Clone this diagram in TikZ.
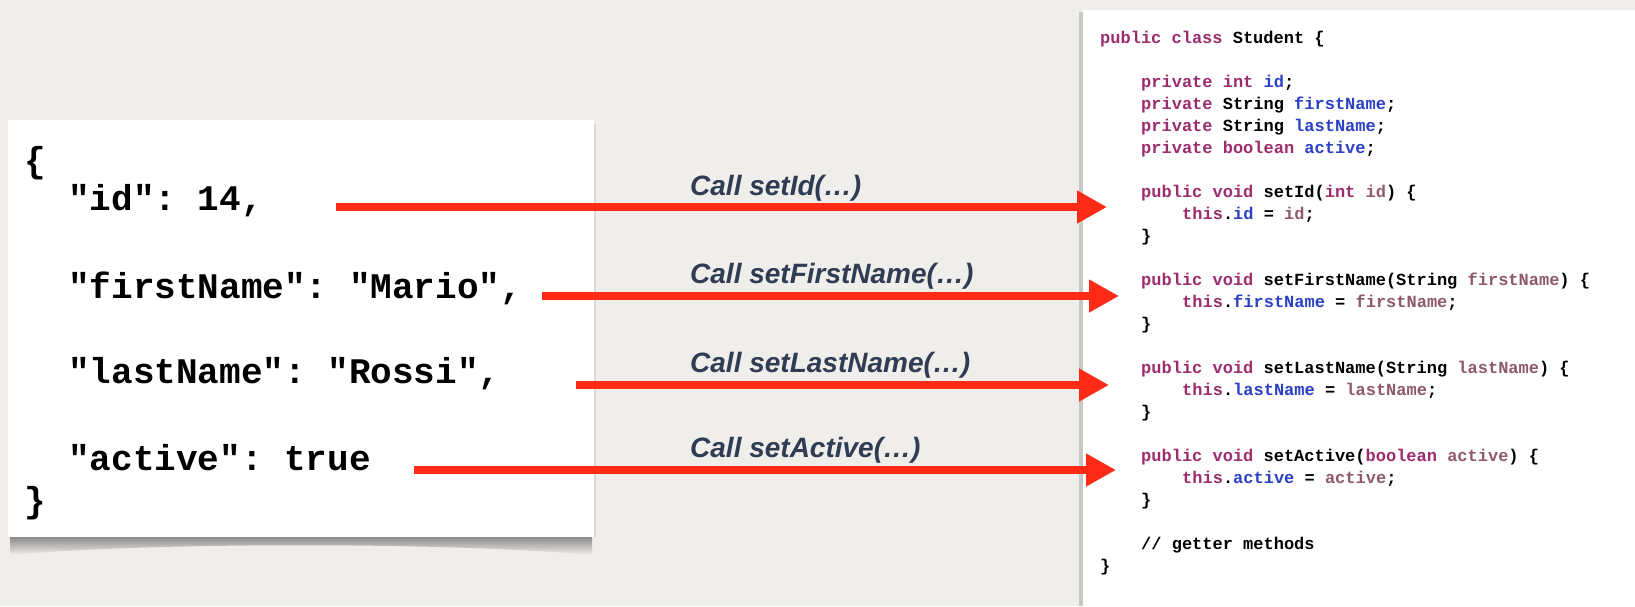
\documentclass[tikz,border=0pt]{standalone}
\usepackage{fontspec}
\setmonofont{Liberation Mono}
\newfontfamily\lblfont{Liberation Sans}
\usetikzlibrary{arrows.meta}
\definecolor{bg}{HTML}{F0EEEA}
\definecolor{kwc}{HTML}{9B2C6E}
\definecolor{fldc}{HTML}{2A40C6}
\definecolor{prmc}{HTML}{8E5A68}
\definecolor{lblc}{HTML}{2F3C54}
\definecolor{arrc}{HTML}{FF2B17}
\newcommand{\kw}[1]{\textcolor{kwc}{#1}}
\newcommand{\fld}[1]{\textcolor{fldc}{#1}}
\newcommand{\prm}[1]{\textcolor{prmc}{#1}}
\frenchspacing
\begin{document}
\begin{tikzpicture}[x=1pt,y=-1pt,
  jsonl/.style={anchor=base west, inner sep=0pt, font=\ttfamily\bfseries\fontsize{36}{43}\selectfont, text=black},
  codel/.style={anchor=base west, inner sep=0pt, font=\ttfamily\bfseries\fontsize{17}{22}\selectfont, text=black},
  lbl/.style={anchor=base west, inner sep=0pt, font=\lblfont\bfseries\itshape\fontsize{28}{33}\selectfont, text=lblc},
  callarrow/.style={draw=arrc, line width=8pt, -{Triangle[length=30pt,width=31pt]}},
  panel/.style={fill=white, draw=none, anchor=north west, inner sep=0pt}]
\useasboundingbox (0,0) rectangle (1635,606);
\fill[bg] (0,0) rectangle (1635,606);
% left panel shadow
\shade[top color=black!45, bottom color=bg]
  (10,537) -- (592,537) -- (592,555) .. controls (450,542) and (150,542) .. (10,555) -- cycle;
\fill[black!15] (593,124) rectangle (596,537);
\node[panel, minimum width=586pt, minimum height=417pt] (json) at (8,120) {};
% right panel shadow
\fill[black!22] (1079,12) rectangle (1084,606);
\node[panel, minimum width=552pt, minimum height=600pt] (code) at (1083,10) {};
% JSON text
\node[jsonl] (j0) at (24,172) {\{};
\node[jsonl] (j1) at (68,210) {"id": 14,};
\node[jsonl] (j2) at (68,298) {"firstName": "Mario",};
\node[jsonl] (j3) at (68,383) {"lastName": "Rossi",};
\node[jsonl] (j4) at (68,470) {"active": true};
\node[jsonl] (j5) at (24,512) {\}};
% Java code
\node[codel] (c1) at (1100,43) {\kw{public class} Student \{};
\node[codel] (c2) at (1141,87) {\kw{private int} \fld{id};};
\node[codel] (c3) at (1141,109) {\kw{private} String \fld{firstName};};
\node[codel] (c4) at (1141,131) {\kw{private} String \fld{lastName};};
\node[codel] (c5) at (1141,153) {\kw{private boolean} \fld{active};};
\node[codel] (c6) at (1141,197) {\kw{public void} setId(\kw{int} \prm{id}) \{};
\node[codel] (c7) at (1182,219) {\kw{this}.\fld{id} = \prm{id};};
\node[codel] (c8) at (1141,241) {\}};
\node[codel] (c9) at (1141,285) {\kw{public void} setFirstName(String \prm{firstName}) \{};
\node[codel] (c10) at (1182,307) {\kw{this}.\fld{firstName} = \prm{firstName};};
\node[codel] (c11) at (1141,329) {\}};
\node[codel] (c12) at (1141,373) {\kw{public void} setLastName(String \prm{lastName}) \{};
\node[codel] (c13) at (1182,395) {\kw{this}.\fld{lastName} = \prm{lastName};};
\node[codel] (c14) at (1141,417) {\}};
\node[codel] (c15) at (1141,461) {\kw{public void} setActive(\kw{boolean} \prm{active}) \{};
\node[codel] (c16) at (1182,483) {\kw{this}.\fld{active} = \prm{active};};
\node[codel] (c17) at (1141,505) {\}};
\node[codel] (c18) at (1141,549) {// getter methods};
\node[codel] (c19) at (1100,571) {\}};
% labels
\node[lbl] (l1) at (690,195) {Call setId(…)};
\node[lbl] (l2) at (690,283) {Call setFirstName(…)};
\node[lbl] (l3) at (690,372) {Call setLastName(…)};
\node[lbl] (l4) at (690,457) {Call setActive(…)};
% arrow end points
\coordinate (s1) at (336,207);
\coordinate (t1) at (1107,207);
\coordinate (s2) at (542,296);
\coordinate (t2) at (1119,296);
\coordinate (s3) at (576,385);
\coordinate (t3) at (1109,385);
\coordinate (s4) at (414,470);
\coordinate (t4) at (1116,470);
\draw[callarrow] (s1) -- (t1);
\draw[callarrow] (s2) -- (t2);
\draw[callarrow] (s3) -- (t3);
\draw[callarrow] (s4) -- (t4);
\end{tikzpicture}
\end{document}
